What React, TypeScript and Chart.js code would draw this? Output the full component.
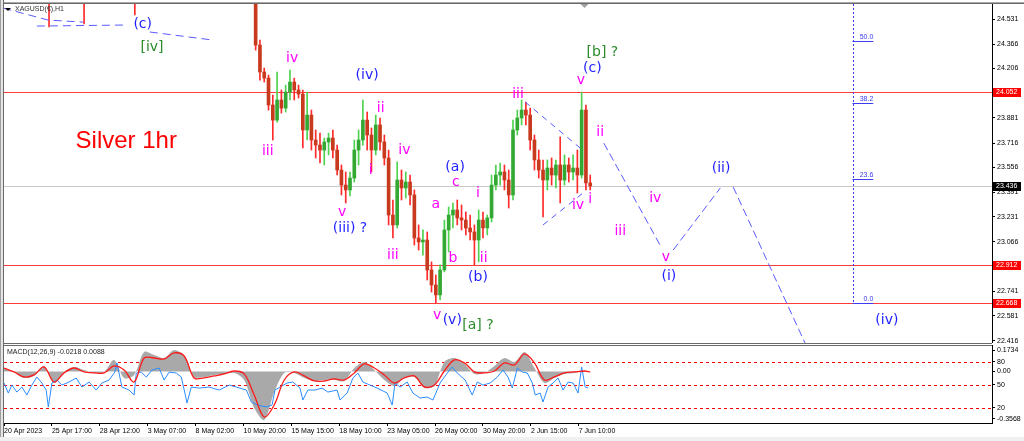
import React, { useEffect, useRef } from "react";
import { Chart, registerables } from "chart.js";

Chart.register(...registerables);

// ---------------- time axis (hourly bars) ----------------
const X_MAX = 1382;
const timeTickBars = [0, 67, 134, 201, 268, 335, 402, 469, 536, 603, 670, 737, 804];
const timeTickLabels = [
  "20 Apr 2023", "25 Apr 17:00", "28 Apr 12:00", "3 May 07:00", "8 May 02:00",
  "10 May 20:00", "15 May 15:00", "18 May 10:00", "23 May 05:00", "26 May 00:00",
  "30 May 20:00", "2 Jun 15:00", "7 Jun 10:00",
];

// ---------------- price candles ----------------
const earlyBars = [63, 112, 183];
const earlyOpen = [24.78, 24.82, 24.74];
const earlyHigh = [24.95, 24.97, 24.9];
const earlyLow = [24.479, 24.499, 24.558];
const earlyClose = [24.71, 24.77, 24.69];

const candleStartBar = 352;
const candleStepBars = 6;
const candleFirstOpen = 24.656;
const candleHigh = [
  24.721, 24.393, 24.209, 24.163, 24.032, 24.183, 24.065, 24.097, 24.196, 24.143,
  24.097, 24.065, 24.051, 23.933, 23.802, 23.782, 23.749, 23.782, 23.802, 23.703,
  23.572, 23.526, 23.526, 23.736, 23.802, 23.999, 23.92, 23.815, 23.9, 23.881,
  23.769, 23.67, 23.342, 23.592, 23.539, 23.526, 23.506, 23.408, 23.178, 23.145,
  23.132, 22.935, 22.849, 22.915, 23.21, 23.296, 23.322, 23.342, 23.309, 23.263,
  23.243, 23.178, 23.276, 23.263, 23.243, 23.506, 23.572, 23.585, 23.572, 23.539,
  23.867, 23.933, 23.999, 23.986, 23.946, 23.769, 23.67, 23.605, 23.605, 23.618,
  23.605, 23.756, 23.638, 23.618, 23.638, 23.67, 24.051, 23.966, 23.506,
];
const candleLow = [
  24.327, 24.13, 24.117, 23.933, 23.736, 23.854, 23.913, 23.92, 23.999, 23.999,
  24.012, 23.684, 23.736, 23.67, 23.618, 23.585, 23.572, 23.638, 23.618, 23.506,
  23.375, 23.322, 23.368, 23.46, 23.572, 23.703, 23.67, 23.526, 23.638, 23.67,
  23.572, 23.178, 23.092, 23.158, 23.342, 23.355, 23.309, 23.046, 23.013, 22.98,
  22.816, 22.737, 22.665, 22.685, 22.869, 23.0, 23.158, 23.178, 23.145, 23.112,
  23.079, 22.915, 22.935, 23.092, 23.112, 23.197, 23.408, 23.44, 23.408, 23.289,
  23.342, 23.769, 23.835, 23.835, 23.67, 23.539, 23.486, 23.23, 23.408, 23.44,
  23.421, 23.322, 23.44, 23.46, 23.473, 23.388, 23.486, 23.408, 23.408,
];
const candleClose = [
  24.36, 24.183, 24.143, 23.966, 23.867, 23.999, 23.946, 24.051, 24.117, 24.065,
  24.038, 23.802, 23.9, 23.736, 23.703, 23.67, 23.723, 23.749, 23.67, 23.539,
  23.44, 23.408, 23.486, 23.67, 23.736, 23.867, 23.769, 23.67, 23.835, 23.723,
  23.618, 23.243, 23.178, 23.473, 23.421, 23.46, 23.375, 23.092, 23.066, 23.079,
  22.882, 22.783, 22.718, 22.882, 23.145, 23.243, 23.276, 23.224, 23.21, 23.158,
  23.132, 23.079, 23.21, 23.158, 23.224, 23.44, 23.506, 23.526, 23.473, 23.375,
  23.802, 23.881, 23.933, 23.9, 23.736, 23.605, 23.539, 23.473, 23.552, 23.506,
  23.572, 23.473, 23.572, 23.526, 23.552, 23.506, 23.933, 23.454, 23.434,
];

// ---------------- price axis & levels ----------------
const PRICE_MIN = 22.402;
const PRICE_MAX = 24.63;
const priceTicks = [24.531, 24.366, 24.206, 24.041, 23.881, 23.716, 23.556, 23.391, 23.231, 23.066, 22.906, 22.741, 22.581, 22.416];
const redLevels = [24.052, 22.912, 22.668];
const bidPrice = 23.436;

// Fibonacci retracement
const fibHigh = 26.108;
const fibLow = 22.668;
const fibLevels = [0, 23.6, 38.2, 50];
const fibBar = 1187;
const fibEndBar = 1216;

// ---------------- wave lines ----------------
const projLeg1 = [[839, 23.716], [920, 23.026]];
const projLeg2 = [[936, 23.013], [1002, 23.421]];
const projLeg3 = [[1020, 23.427], [1123, 22.376]];
const triangleUpper = [[729, 23.986], [806, 23.683]];
const triangleLower = [[754, 23.178], [810, 23.388]];
const oldPath1 = [[-1, 24.603], [62, 24.524], [111, 24.511]];
const oldPath2 = [[46, 24.485], [173, 24.492]];
const oldPath3 = [[204, 24.446], [292, 24.393]];

// ---------------- wave labels ----------------
const BLUE = "#1e1eff";
const MAG = "#ff00ff";
const GREEN = "#2b8a2b";
const waveLabels = [
  { t: "(c)", bar: 194, price: 24.498, c: BLUE },
  { t: "[iv]", bar: 207, price: 24.347, c: GREEN },
  { t: "iv", bar: 403, price: 24.275, c: MAG },
  { t: "iii", bar: 369, price: 23.664, c: MAG },
  { t: "(iv)", bar: 508, price: 24.163, c: BLUE },
  { t: "ii", bar: 527, price: 23.946, c: MAG },
  { t: "i", bar: 513, price: 23.539, c: MAG },
  { t: "iv", bar: 560, price: 23.67, c: MAG },
  { t: "v", bar: 473, price: 23.263, c: MAG },
  { t: "(iii) ?", bar: 484, price: 23.158, c: BLUE },
  { t: "iii", bar: 544, price: 22.98, c: MAG },
  { t: "a", bar: 604, price: 23.316, c: MAG },
  { t: "(a)", bar: 631, price: 23.559, c: BLUE },
  { t: "c", bar: 632, price: 23.46, c: MAG },
  { t: "b", bar: 628, price: 22.961, c: MAG },
  { t: "i", bar: 663, price: 23.388, c: MAG },
  { t: "ii", bar: 671, price: 22.961, c: MAG },
  { t: "(b)", bar: 663, price: 22.836, c: BLUE },
  { t: "v", bar: 606, price: 22.586, c: MAG },
  { t: "(v)", bar: 627, price: 22.553, c: BLUE },
  { t: "[a] ?", bar: 663, price: 22.521, c: GREEN },
  { t: "iii", bar: 719, price: 24.038, c: MAG },
  { t: "[b] ?", bar: 837, price: 24.314, c: GREEN },
  { t: "(c)", bar: 823, price: 24.209, c: BLUE },
  { t: "v", bar: 807, price: 24.13, c: MAG },
  { t: "ii", bar: 834, price: 23.789, c: MAG },
  { t: "iv", bar: 803, price: 23.309, c: MAG },
  { t: "i", bar: 820, price: 23.348, c: MAG },
  { t: "iv", bar: 911, price: 23.355, c: MAG },
  { t: "iii", bar: 862, price: 23.138, c: MAG },
  { t: "v", bar: 926, price: 22.967, c: MAG },
  { t: "(i)", bar: 930, price: 22.842, c: BLUE },
  { t: "(ii)", bar: 1003, price: 23.552, c: BLUE },
  { t: "(iv)", bar: 1235, price: 22.553, c: BLUE },
];
const chartTitle = { t: "Silver 1hr", bar: 171, price: 23.73 };
const symbolTitle = "XAGUSD(€),H1";

// ---------------- MACD panel ----------------
const MACD_MIN = -0.3568;
const MACD_MAX = 0.1734;
const macdTitle = "MACD(12,26,9) -0.0218 0.0088";
const macdBars = [
  0, 14, 28, 42, 56, 70, 84, 98, 112, 126, 140, 154, 168, 182, 196, 210, 224, 238, 252, 266,
  280, 294, 308, 322, 336, 350, 364, 378, 392, 406, 420, 434, 448, 462, 476, 490, 504, 518, 532, 546,
  560, 574, 588, 602, 616, 630, 644, 658, 672, 686, 700, 714, 728, 742, 756, 770, 784, 798, 812, 820,
];
const macdMain = [
  0.024, -0.003, -0.045, -0.031, 0.038, -0.08, -0.003, 0.031, 0.01, -0.01,
  -0.003, 0.08, -0.045, -0.024, 0.135, 0.114, 0.093, 0.149, 0.107, -0.038,
  -0.038, -0.024, -0.017, -0.01, -0.059, -0.253, -0.336, -0.142, -0.01, -0.01,
  -0.045, -0.066, -0.059, -0.059, -0.066, 0.024, 0.066, 0.01, -0.059, -0.1,
  -0.045, -0.038, -0.114, -0.1, 0.066, 0.093, 0.052, -0.017, -0.01, 0.038,
  0.093, 0.066, 0.135, 0.024, -0.08, -0.045, -0.017, -0.01, 0.003, -0.003,
];
const macdSignal = [
  0.024, -0.003, -0.038, -0.024, 0.031, -0.073, -0.01, 0.024, -0.003, -0.01,
  -0.01, 0.038, 0.01, -0.073, 0.093, 0.093, 0.087, 0.128, 0.107, -0.045,
  -0.045, -0.031, -0.017, 0.003, -0.017, -0.163, -0.315, -0.232, -0.059, -0.003,
  -0.031, -0.066, -0.066, -0.052, -0.059, -0.01, 0.052, 0.024, -0.024, -0.08,
  -0.045, -0.031, -0.107, -0.093, 0.003, 0.08, 0.059, -0.003, -0.01, 0.003,
  0.059, 0.045, 0.121, 0.059, -0.059, -0.038, -0.01, -0.003, 0.003, -0.003,
];
const oscBars = [
  0, 6, 11, 18, 25, 32, 39, 46, 53, 59, 62, 67, 74, 81, 91, 101, 109, 119, 129, 137,
  147, 155, 158, 165, 175, 182, 185, 192, 199, 207, 217, 224, 231, 241, 248, 253, 256, 262, 273, 287,
  301, 315, 325, 339, 346, 354, 367, 375, 379, 386, 396, 404, 414, 418, 425, 435, 445, 453, 466, 470,
  480, 488, 495, 502, 512, 522, 536, 543, 547, 554, 564, 572, 582, 592, 600, 610, 620, 627, 634, 645,
  655, 662, 670, 680, 690, 698, 705, 711, 718, 725, 732, 739, 743, 750, 754, 761, 768, 775, 782, 789,
  796, 803, 808, 813, 817,
];
const oscValues = [
  52.2, 39.1, 49.5, 40.4, 46.9, 36.5, 49.5, 60.0, 52.2, 43.0, 20.9, 52.2, 56.1, 49.5, 53.5, 58.7, 46.9, 53.5, 43.0, 52.2,
  56.1, 66.5, 78.2, 46.9, 43.0, 36.5, 65.2, 66.5, 60.0, 69.1, 71.7, 56.1, 66.5, 65.2, 60.0, 39.1, 26.1, 46.9, 45.6, 46.9,
  43.0, 49.5, 46.9, 43.0, 27.4, 23.5, 20.9, 23.5, 43.0, 46.9, 52.2, 53.5, 45.6, 30.0, 43.0, 43.0, 45.6, 40.4, 43.0, 30.0,
  39.1, 58.7, 65.2, 53.5, 49.5, 45.6, 39.1, 23.5, 52.2, 46.9, 53.5, 39.1, 32.6, 33.9, 30.0, 52.2, 65.2, 73.0, 65.2, 56.1,
  36.5, 53.5, 49.5, 52.2, 60.0, 69.1, 60.0, 45.6, 71.7, 66.5, 65.2, 52.2, 36.5, 39.1, 27.4, 46.9, 52.2, 58.7, 43.0, 53.5,
  52.2, 39.1, 73.0, 46.9, 45.6,
];
const oscLevels = [80, 50, 20];

// ---------------- styling ----------------
const AXIS_FONT = '"Liberation Sans", Arial, sans-serif';
const LABEL_FONT = '"DejaVu Sans", sans-serif';
const DASH = "#5a5aff";
const FIB = "#3c3cf0";
const UP_WICK = "#4fd24f";
const UP_BODY = "#33a833";
const DN_WICK = "#ff2a2a";
const DN_BODY = "#c83a1e";

type Candle = { bar: number; o: number; h: number; l: number; c: number };

function buildCandles(): Candle[] {
  const early = earlyBars.map((b, i) => ({ bar: b, o: earlyOpen[i], h: earlyHigh[i], l: earlyLow[i], c: earlyClose[i] }));
  const main = candleClose.map((c, i) => ({
    bar: candleStartBar + candleStepBars * i,
    o: i === 0 ? candleFirstOpen : candleClose[i - 1],
    h: candleHigh[i],
    l: candleLow[i],
    c,
  }));
  return [...early, ...main];
}

function hline(ctx: CanvasRenderingContext2D, x1: number, y: number, x2: number) {
  ctx.beginPath();
  ctx.moveTo(x1, y);
  ctx.lineTo(x2, y);
  ctx.stroke();
}

function drawLeftBorder(ctx: CanvasRenderingContext2D, h: number) {
  ctx.fillStyle = "#a0a0a0";
  ctx.fillRect(0, 0, 1, h);
  ctx.fillStyle = "#e4e4e4";
  ctx.fillRect(1, 0, 2, h);
  ctx.fillStyle = "#6a6a6a";
  ctx.fillRect(3, 0, 1, h);
}

const pricePlugin = {
  id: "priceDeco",
  beforeDatasetsDraw(chart: any) {
    const { ctx, chartArea: a, scales } = chart;
    const x = scales.x;
    const y = scales.y;
    ctx.save();
    ctx.lineWidth = 1;
    ctx.strokeStyle = "#c8c8c8";
    hline(ctx, a.left, Math.round(y.getPixelForValue(bidPrice)) + 0.5, a.right);
    ctx.strokeStyle = "#ff3c3c";
    for (const p of redLevels) hline(ctx, a.left, Math.round(y.getPixelForValue(p)) + 0.5, a.right);
    // fib
    const fx = Math.round(x.getPixelForValue(fibBar)) + 0.5;
    const fx2 = x.getPixelForValue(fibEndBar);
    ctx.strokeStyle = FIB;
    ctx.setLineDash([2, 2]);
    ctx.beginPath();
    ctx.moveTo(fx, a.top);
    ctx.lineTo(fx, y.getPixelForValue(fibLow));
    ctx.stroke();
    ctx.setLineDash([]);
    ctx.font = `7px ${AXIS_FONT}`;
    ctx.fillStyle = FIB;
    ctx.textAlign = "right";
    ctx.textBaseline = "bottom";
    for (const lv of fibLevels) {
      const price = fibLow + ((fibHigh - fibLow) * lv) / 100;
      const py = Math.round(y.getPixelForValue(price)) + 0.5;
      hline(ctx, fx - 1, py, fx2);
      ctx.fillText(lv.toFixed(1), fx2, py - 1);
    }
    ctx.restore();
  },
  afterDatasetsDraw(chart: any) {
    const { ctx, scales } = chart;
    const x = scales.x;
    const y = scales.y;
    ctx.save();
    ctx.textAlign = "center";
    ctx.textBaseline = "middle";
    ctx.font = `14px ${LABEL_FONT}`;
    for (const l of waveLabels) {
      ctx.fillStyle = l.c;
      ctx.fillText(l.t, x.getPixelForValue(l.bar), y.getPixelForValue(l.price));
    }
    ctx.font = `24px ${AXIS_FONT}`;
    ctx.fillStyle = "#ff0000";
    ctx.fillText(chartTitle.t, x.getPixelForValue(chartTitle.bar), y.getPixelForValue(chartTitle.price));
    ctx.restore();
  },
  afterDraw(chart: any) {
    const { ctx, chartArea: a, scales, width, height } = chart;
    const x = scales.x;
    const y = scales.y;
    ctx.save();
    // frame
    ctx.fillStyle = "#a8a8a8";
    ctx.fillRect(0, 2, width, 1);
    ctx.fillStyle = "#6a6a6a";
    ctx.fillRect(0, 3, width, 1);
    drawLeftBorder(ctx, height);
    ctx.fillStyle = "#000";
    ctx.fillRect(a.right, a.top, 1, a.bottom - a.top);
    ctx.fillStyle = "#6a6a6a";
    ctx.fillRect(3, a.bottom, a.right - 3, 1);
    // chart shift marker
    const sx = x.getPixelForValue(812);
    ctx.fillStyle = "#a0a0a0";
    ctx.beginPath();
    ctx.moveTo(sx - 4, 4);
    ctx.lineTo(sx + 4, 4);
    ctx.lineTo(sx, 8);
    ctx.closePath();
    ctx.fill();
    // boxed price labels
    ctx.font = `7px ${AXIS_FONT}`;
    ctx.textAlign = "left";
    ctx.textBaseline = "middle";
    const box = (p: number, bg: string) => {
      const py = Math.round(y.getPixelForValue(p));
      ctx.fillStyle = bg;
      ctx.fillRect(a.right + 1, py - 4, 28, 9);
      ctx.fillStyle = "#fff";
      ctx.fillText(p.toFixed(3), a.right + 4, py + 0.5);
    };
    for (const p of redLevels) box(p, "#ff0000");
    box(bidPrice, "#000");
    // symbol title
    ctx.fillStyle = "#000";
    ctx.beginPath();
    ctx.moveTo(5, 8);
    ctx.lineTo(11, 8);
    ctx.lineTo(8, 11);
    ctx.closePath();
    ctx.fill();
    ctx.fillStyle = "#333";
    ctx.fillText(symbolTitle, 15, 9.5);
    ctx.restore();
  },
};

const macdPlugin = {
  id: "macdDeco",
  beforeDatasetsDraw(chart: any) {
    const { ctx, chartArea: a, scales } = chart;
    const s = scales.s;
    ctx.save();
    ctx.strokeStyle = "#ff0000";
    ctx.lineWidth = 1;
    ctx.setLineDash([3, 3]);
    for (const lv of oscLevels) hline(ctx, a.left, Math.round(s.getPixelForValue(lv)) + 0.5, a.right);
    ctx.restore();
  },
  afterDraw(chart: any) {
    const { ctx, chartArea: a, width, height } = chart;
    ctx.save();
    ctx.fillStyle = "#6a6a6a";
    ctx.fillRect(3, 1, a.right - 3, 1);
    ctx.fillStyle = "#000";
    ctx.fillRect(3, Math.round(a.bottom), a.right - 3, 1);
    ctx.fillRect(a.right, 1, 1, Math.round(a.bottom));
    drawLeftBorder(ctx, height - 4);
    ctx.fillStyle = "#f0f0f0";
    ctx.fillRect(0, height - 4, width, 4);
    ctx.fillStyle = "#222";
    ctx.font = `7px ${AXIS_FONT}`;
    ctx.textAlign = "left";
    ctx.textBaseline = "middle";
    ctx.fillText(macdTitle, 7, 8);
    ctx.restore();
  },
};

function lineDs(pts: number[][], dash: number[]) {
  return {
    type: "line",
    data: pts.map((p) => ({ x: p[0], y: p[1] })),
    borderColor: DASH,
    borderWidth: 1,
    borderDash: dash,
    pointRadius: 0,
    fill: false,
    tension: 0,
    order: 0,
  };
}

function noPad(s: any) {
  s.paddingTop = 0;
  s.paddingBottom = 0;
  s.paddingLeft = 0;
  s.paddingRight = 0;
}

function priceConfig(): any {
  const candles = buildCandles();
  const body = candles.map((k) => ({ x: k.bar, y: [Math.min(k.o, k.c), Math.max(k.o, k.c)], up: k.c >= k.o }));
  const wick = candles.map((k) => ({ x: k.bar, y: [k.l, k.h], up: k.c >= k.o }));
  return {
    type: "bar",
    data: {
      datasets: [
        lineDs(projLeg1, [8, 4]),
        lineDs(projLeg2, [8, 4]),
        lineDs(projLeg3, [8, 4]),
        lineDs(triangleUpper, [6, 5]),
        lineDs(triangleLower, [6, 5]),
        lineDs(oldPath1, [8, 5]),
        lineDs(oldPath2, [8, 5]),
        lineDs(oldPath3, [8, 5]),
        {
          type: "bar",
          data: body,
          grouped: false,
          barThickness: 3,
          minBarLength: 1,
          backgroundColor: (c: any) => (c.raw && c.raw.up ? UP_BODY : DN_BODY),
          order: 1,
        },
        {
          type: "bar",
          data: wick,
          grouped: false,
          barThickness: 1,
          backgroundColor: (c: any) => (c.raw && c.raw.up ? UP_WICK : DN_WICK),
          order: 2,
        },
      ],
    },
    options: {
      responsive: false,
      animation: false,
      devicePixelRatio: 1,
      events: [],
      layout: { padding: { left: 4, top: 4, right: 0, bottom: 1 } },
      plugins: { legend: { display: false }, tooltip: { enabled: false } },
      scales: {
        x: { type: "linear", display: false, min: 0, max: X_MAX, offset: false, grid: { offset: false } },
        y: {
          type: "linear",
          position: "right",
          min: PRICE_MIN,
          max: PRICE_MAX,
          beginAtZero: false,
          border: { display: false },
          grid: { drawOnChartArea: false, tickLength: 3, color: "#000" },
          ticks: {
            autoSkip: false,
            font: { family: AXIS_FONT, size: 7 },
            color: "#000",
            padding: 2,
            callback: (v: any) => Number(v).toFixed(3),
          },
          afterBuildTicks: (s: any) => {
            s.ticks = priceTicks.map((v) => ({ value: v }));
          },
          afterFit: (s: any) => {
            s.width = 32;
            noPad(s);
          },
        },
      },
    },
    plugins: [pricePlugin],
  };
}

function macdConfig(): any {
  const span = MACD_MAX - MACD_MIN;
  const toMacd = (lv: number) => MACD_MIN + (lv / 100) * span;
  const rightTicks = [
    { v: MACD_MAX - 0.025, label: MACD_MAX.toFixed(4) },
    { v: toMacd(80), label: "80" },
    { v: 0, label: "0.00" },
    { v: toMacd(50), label: "50" },
    { v: toMacd(20), label: "20" },
    { v: MACD_MIN + 0.028, label: MACD_MIN.toFixed(4) },
  ];
  return {
    type: "line",
    data: {
      datasets: [
        {
          data: macdBars.map((b, i) => ({ x: b, y: macdSignal[i] })),
          borderColor: "#ff1a1a",
          borderWidth: 1.3,
          pointRadius: 0,
          tension: 0.35,
          yAxisID: "m",
          order: 0,
        },
        {
          data: oscBars.map((b, i) => ({ x: b, y: oscValues[i] })),
          borderColor: "#2b8cff",
          borderWidth: 1,
          pointRadius: 0,
          tension: 0,
          yAxisID: "s",
          order: 1,
        },
        {
          data: macdBars.map((b, i) => ({ x: b, y: macdMain[i] })),
          borderColor: "rgba(0,0,0,0)",
          borderWidth: 0,
          backgroundColor: "#a9a9a9",
          fill: "origin",
          pointRadius: 0,
          tension: 0.3,
          yAxisID: "m",
          order: 2,
        },
      ],
    },
    options: {
      responsive: false,
      animation: false,
      devicePixelRatio: 1,
      events: [],
      layout: { padding: { left: 4, top: 2.4, right: 0, bottom: 0 } },
      plugins: { legend: { display: false }, tooltip: { enabled: false } },
      scales: {
        x: {
          type: "linear",
          min: 0,
          max: X_MAX,
          offset: false,
          border: { display: false },
          grid: { drawOnChartArea: false, tickLength: 3, color: "#000", offset: false },
          ticks: {
            autoSkip: false,
            maxRotation: 0,
            align: "start",
            padding: 1,
            font: { family: AXIS_FONT, size: 7 },
            color: "#000",
            callback: (_v: any, i: number) => timeTickLabels[i],
          },
          afterBuildTicks: (s: any) => {
            s.ticks = timeTickBars.map((v) => ({ value: v }));
          },
          afterFit: (s: any) => {
            s.height = 18;
            noPad(s);
          },
        },
        m: {
          type: "linear",
          position: "right",
          min: MACD_MIN,
          max: MACD_MAX,
          border: { display: false },
          grid: { drawOnChartArea: false, tickLength: 3, color: "#000" },
          ticks: {
            autoSkip: false,
            font: { family: AXIS_FONT, size: 7 },
            color: "#000",
            padding: 2,
            callback: (_v: any, i: number) => rightTicks[i].label,
          },
          afterBuildTicks: (s: any) => {
            s.ticks = rightTicks.map((t) => ({ value: t.v }));
          },
          afterFit: (s: any) => {
            s.width = 32;
            noPad(s);
          },
        },
        s: { type: "linear", display: false, min: 0, max: 100 },
      },
    },
    plugins: [macdPlugin],
  };
}

export default function App() {
  const priceRef = useRef<HTMLCanvasElement>(null);
  const macdRef = useRef<HTMLCanvasElement>(null);

  useEffect(() => {
    document.body.style.margin = "0";
    const c1 = new Chart(priceRef.current as HTMLCanvasElement, priceConfig());
    const c2 = new Chart(macdRef.current as HTMLCanvasElement, macdConfig());
    return () => {
      c1.destroy();
      c2.destroy();
    };
  }, []);

  return (
    <div style={{ position: "fixed", left: 0, top: 0, width: 1024, height: 441, background: "#fff", overflow: "hidden" }}>
      <canvas ref={priceRef} width={1024} height={344} style={{ position: "absolute", left: 0, top: 0, width: 1024, height: 344 }} />
      <canvas ref={macdRef} width={1024} height={97} style={{ position: "absolute", left: 0, top: 344, width: 1024, height: 97 }} />
    </div>
  );
}
